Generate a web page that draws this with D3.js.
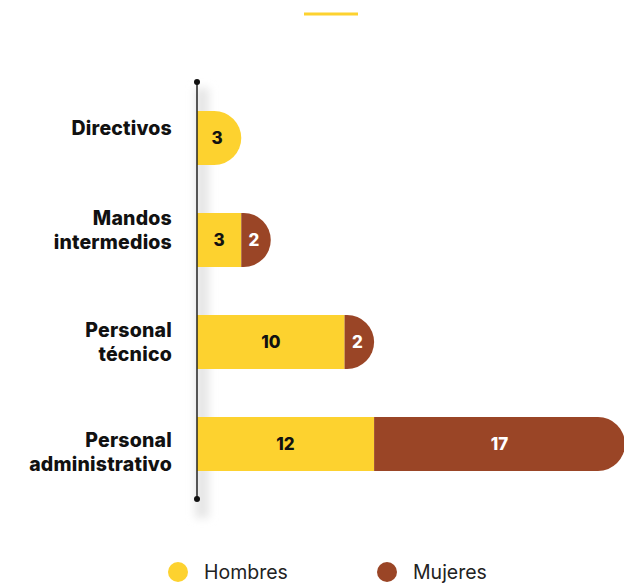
<!DOCTYPE html>
<html>
<head>
    <meta charset="UTF-8">
    <title>Plantilla por sexo</title>
    <script src="https://d3js.org/d3.v7.min.js"></script>
    <style>
        body { margin: 0; background: white; font-family: Inter, "DejaVu Sans", sans-serif; }
        .cat-label { font-size: 19.5px; font-weight: 800; fill: #111; letter-spacing: 0.2px; }
        .val-label { font-size: 17px; font-weight: 800; }
        .legend-label { font-size: 19.5px; fill: #222; }
    </style>
</head>
<body>
<script>
    var width = 624, height = 583;

    // data
    var categories = [["Directivos"], ["Mandos", "intermedios"], ["Personal", "técnico"], ["Personal", "administrativo"]];
    var hombres = [3, 3, 10, 12];
    var mujeres = [0, 2, 2, 17];
    var seriesNames = ["Hombres", "Mujeres"];
    var colors = ["#FDD22F", "#9A4526"];
    // vertical shift of each category label relative to its bar
    var labelShift = [-10, -10, 0, 8];

    var svg = d3.select("body").append("svg")
        .attr("width", width).attr("height", height);

    var defs = svg.append("defs");
    defs.append("filter").attr("id", "blur").attr("x", "-100%").attr("width", "300%")
        .append("feGaussianBlur").attr("stdDeviation", 4);

    // small decoration line at top
    svg.append("line").attr("x1", 304).attr("x2", 358).attr("y1", 14).attr("y2", 14)
        .attr("stroke", colors[0]).attr("stroke-width", 3);

    var x0 = 197;
    var x = d3.scaleLinear().domain([0, 29]).range([x0, 625]);
    var y = d3.scaleBand().domain(d3.range(categories.length)).range([87, 495]).paddingInner(0.47).paddingOuter(0.235);
    var bh = y.bandwidth();
    var r = bh / 2;

    // shadow along the axis
    svg.append("rect").attr("x", x0 - 2).attr("y", 88).attr("width", 14).attr("height", 430)
        .attr("fill", "#e6e6e6").attr("filter", "url(#blur)");

    // build stacked segments
    var segs = [];
    categories.forEach(function (c, i) {
        var vals = [hombres[i], mujeres[i]];
        var last = vals[1] > 0 ? 1 : 0;
        var start = 0;
        vals.forEach(function (v, s) {
            if (v > 0) segs.push({ i: i, s: s, v: v, a: start, b: start + v, round: s === last });
            start += v;
        });
    });

    function segPath(d) {
        var xa = x(d.a), xb = x(d.b), top = y(d.i), bot = top + bh;
        if (!d.round) return "M" + xa + "," + top + "H" + xb + "V" + bot + "H" + xa + "Z";
        return "M" + xa + "," + top + "H" + (xb - r) +
            "A" + r + "," + r + " 0 0 1 " + (xb - r) + "," + bot + "H" + xa + "Z";
    }

    var g = svg.append("g");
    g.selectAll("path.seg").data(segs).enter().append("path").attr("class", "seg")
        .attr("d", segPath)
        .attr("fill", function (d) { return colors[d.s]; });

    g.selectAll("text.val").data(segs).enter().append("text").attr("class", "val-label")
        .attr("x", function (d) { return (x(d.a) + x(d.b)) / 2 - (d.round && d.v < 4 ? 2 : 0); })
        .attr("y", function (d) { return y(d.i) + bh / 2; })
        .attr("dy", "0.36em")
        .attr("text-anchor", "middle")
        .attr("fill", function (d) { return d.s === 0 ? "#111" : "#fff"; })
        .text(function (d) { return d.v; });

    // axis line with end dots
    svg.append("line").attr("x1", x0).attr("x2", x0).attr("y1", 82).attr("y2", 499)
        .attr("stroke", "#222").attr("stroke-width", 1.5);
    svg.selectAll("circle.end").data([82, 499]).enter().append("circle")
        .attr("cx", x0).attr("cy", function (d) { return d; }).attr("r", 3).attr("fill", "#111");

    // category labels
    var labels = svg.selectAll("text.cat").data(categories).enter().append("text")
        .attr("class", "cat-label").attr("text-anchor", "end")
        .attr("transform", function (d, i) { return "translate(172," + (y(i) + bh / 2 + labelShift[i]) + ")"; });
    labels.each(function (d) {
        var t = d3.select(this);
        var lh = 24, off = -(d.length - 1) * lh / 2;
        d.forEach(function (line, k) {
            t.append("tspan").attr("x", 0).attr("y", off + k * lh).attr("dy", "0.36em").text(line);
        });
    });

    // legend
    var legend = svg.selectAll("g.legend").data(seriesNames).enter().append("g")
        .attr("transform", function (d, i) { return "translate(" + [178, 387][i] + ",572)"; });
    legend.append("circle").attr("r", 10).attr("fill", function (d, i) { return colors[i]; });
    legend.append("text").attr("class", "legend-label").attr("x", 26).attr("dy", "0.36em")
        .text(function (d) { return d; });
</script>
</body>
</html>
